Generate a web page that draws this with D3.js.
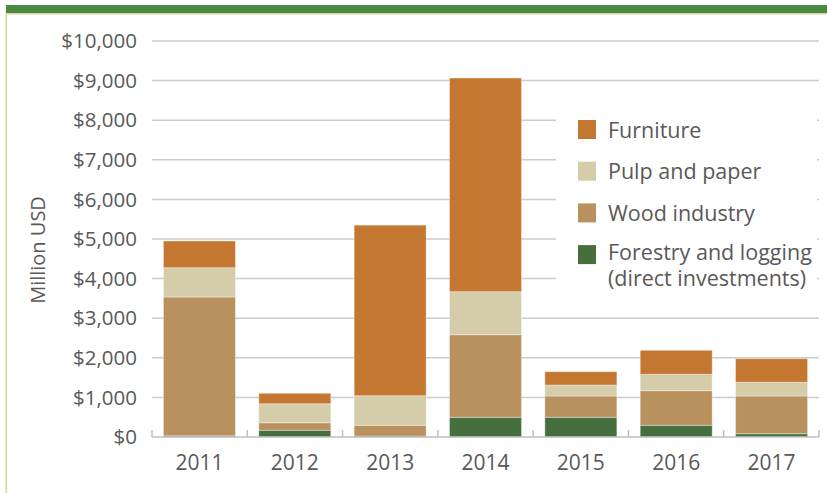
<!DOCTYPE html>
<meta charset="utf-8">
<head>
<script src="https://d3js.org/d3.v7.min.js"></script>
<style>
body { margin: 0; background: #fff; }
svg { font-family: "Open Sans", sans-serif; }
</style>
</head>
<body>
<div id="chart"></div>

<script>
// data (million USD)
var years = ["2011", "2012", "2013", "2014", "2015", "2016", "2017"];
var keys = ["forestry", "wood", "pulp", "furniture"];
var forestry  = [30, 170, 25, 497, 497, 295, 83];
var wood      = [3505, 190, 270, 2086, 538, 875, 952];
var pulp      = [740, 480, 748, 1087, 278, 413, 346];
var furniture = [675, 263, 4307, 5395, 337, 606, 596];
var yTicks = [0, 1000, 2000, 3000, 4000, 5000, 6000, 7000, 8000, 9000, 10000];
var legendLabels = [
  ["furniture", ["Furniture"]],
  ["pulp", ["Pulp and paper"]],
  ["wood", ["Wood industry"]],
  ["forestry", ["Forestry and logging", "(direct investments)"]]
];

var colors = {
  furniture: "#c47730",
  pulp: "#d5cda9",
  wood: "#b8915f",
  forestry: "#456f3c"
};

var rows = years.map(function(y, i) {
  return {year: y, forestry: forestry[i], wood: wood[i], pulp: pulp[i], furniture: furniture[i]};
});

var W = 827, H = 493;
var svg = d3.select("#chart").append("svg")
  .attr("width", W).attr("height", H);

// frame
svg.append("rect").attr("x", 6).attr("y", 5).attr("width", W - 6).attr("height", 8).attr("fill", "#4b8a40");
svg.append("rect").attr("x", 6).attr("y", 13).attr("width", W - 6).attr("height", 1.5).attr("fill", "#ddd6a6");
svg.append("rect").attr("x", 5.5).attr("y", 13).attr("width", 1.6).attr("height", H - 13).attr("fill", "#d9d19c");

var x = d3.scaleBand().domain(years).range([152, 819]).paddingInner(0.245).paddingOuter(0.12);
var y = d3.scaleLinear().domain([0, 10000]).range([437, 41]);

// gridlines
svg.append("g").selectAll("line").data(yTicks.slice(1)).join("line")
  .attr("x1", 152).attr("x2", 819)
  .attr("y1", function(d) { return y(d); }).attr("y2", function(d) { return y(d); })
  .attr("stroke", "#cccccc").attr("stroke-width", 1.5);

// y labels
svg.append("g").selectAll("text").data(yTicks).join("text")
  .attr("x", 137).attr("y", function(d) { return y(d); })
  .attr("dy", "0.35em")
  .attr("text-anchor", "end")
  .attr("fill", "#595959")
  .attr("font-size", 20.5)
  .text(function(d) { return "$" + d3.format(",")(d); });

svg.append("text")
  .attr("transform", "translate(45,250) rotate(-90)")
  .attr("text-anchor", "middle")
  .attr("fill", "#595959")
  .attr("font-size", 20)
  .text("Million USD");

// legend box (white, hides gridlines)
svg.append("rect").attr("x", 556).attr("y", 100).attr("width", 261).attr("height", 200).attr("fill", "#fff");

// bars
var series = d3.stack().keys(keys)(rows);
svg.append("g").selectAll("g").data(series).join("g")
  .attr("fill", function(s) { return colors[s.key]; })
  .selectAll("rect").data(function(s) { return s; }).join("rect")
  .attr("x", function(d) { return x(d.data.year); })
  .attr("width", x.bandwidth())
  .attr("y", function(d) { return y(d[1]); })
  .attr("height", function(d) { return y(d[0]) - y(d[1]); })
  .attr("stroke", "#fff").attr("stroke-opacity", 0.35).attr("stroke-width", 1);

// x axis
var ax = svg.append("g");
ax.append("line").attr("x1", 152).attr("x2", 819).attr("y1", 437).attr("y2", 437)
  .attr("stroke", "#bfbfbf").attr("stroke-width", 1.5);
ax.selectAll(".sep").data(d3.range(years.length + 1)).join("line")
  .attr("x1", function(i) { return 152 + i * (667 / years.length); })
  .attr("x2", function(i) { return 152 + i * (667 / years.length); })
  .attr("y1", 430).attr("y2", 437)
  .attr("stroke", "#bfbfbf").attr("stroke-width", 1.5);
ax.selectAll("text").data(years).join("text")
  .attr("x", function(d) { return x(d) + x.bandwidth() / 2; })
  .attr("y", 470)
  .attr("text-anchor", "middle")
  .attr("fill", "#595959")
  .attr("font-size", 21)
  .text(function(d) { return d; });

// legend
var lg = svg.append("g").selectAll("g").data(legendLabels).join("g")
  .attr("transform", function(d, i) { return "translate(578," + (120 + i * 41.7) + ")"; });
lg.append("rect").attr("width", 18).attr("height", 19)
  .attr("fill", function(d) { return colors[d[0]]; });
lg.append("text")
  .attr("x", 30).attr("y", function(d) { return d[1].length > 1 ? 14.5 : 17.5; })
  .attr("fill", "#595959")
  .attr("font-size", 21.5)
  .selectAll("tspan").data(function(d) { return d[1]; }).join("tspan")
  .attr("x", 30).attr("dy", function(t, i) { return i ? 26 : 0; })
  .text(function(t) { return t; });
</script>
</body>
